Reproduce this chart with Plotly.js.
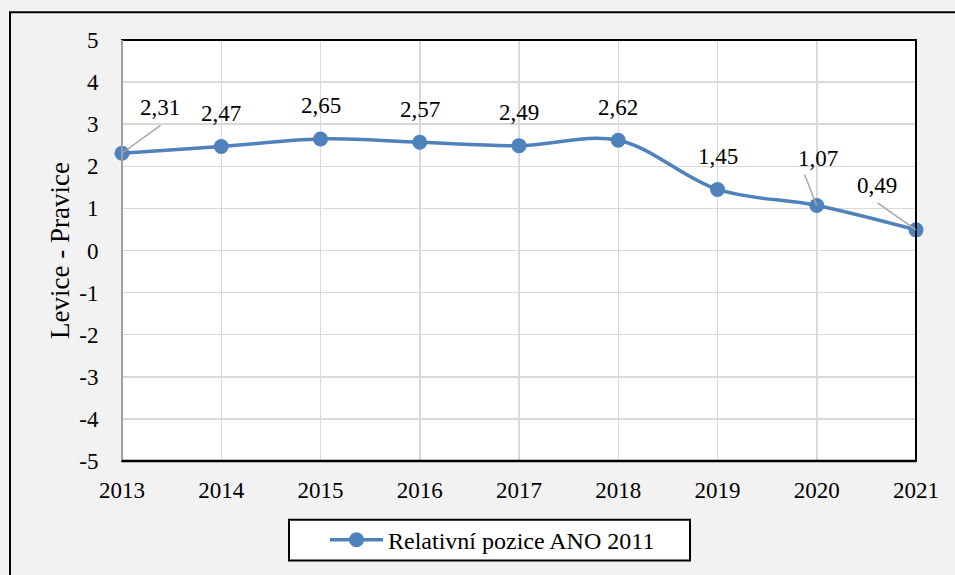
<!DOCTYPE html>
<html>
<head>
<meta charset="utf-8">
<script src="https://cdn.plot.ly/plotly-3.0.1.min.js"></script>
<style>
  html, body { margin: 0; padding: 0; background: #f2f2f2; }
  #chart { width: 955px; height: 575px; }
</style>
</head>
<body>
<div id="chart"></div>
<script>
// ---- data ----
const years = [2013, 2014, 2015, 2016, 2017, 2018, 2019, 2020, 2021];
const values = [2.31, 2.47, 2.65, 2.57, 2.49, 2.62, 1.45, 1.07, 0.49];
const valueLabels = ['2,31', '2,47', '2,65', '2,57', '2,49', '2,62', '1,45', '1,07', '0,49'];
const seriesName = 'Relativní pozice ANO 2011';
const yTickVals = [-5, -4, -3, -2, -1, 0, 1, 2, 3, 4, 5];
const yTickText = ['-5', '-4', '-3', '-2', '-1', '0', '1', '2', '3', '4', '5'];
const xTickText = ['2013', '2014', '2015', '2016', '2017', '2018', '2019', '2020', '2021'];
const yTitle = 'Levice - Pravice';

// ---- styling ----
const FONT = '"Liberation Serif", "Times New Roman", serif';
const BLUE = '#4f81bd';
const GRID = '#d9d9d9';
const LEADER = '#a6a6a6';

// label offsets (px) relative to each point; displaced labels get leader lines
const labelShift = {
  0: {x: 38, y: 46, lead: {ax: 40, ay: -29}},
  7: {x: 1, y: 47, lead: {ax: -13, ay: -33}},
  8: {x: -39, y: 44, lead: {ax: -40, ay: -28}}
};

const annotations = [];
years.forEach((yr, i) => {
  const s = labelShift[i] || {x: 0, y: 33};
  annotations.push({
    x: yr, y: values[i], xref: 'x', yref: 'y',
    text: valueLabels[i], showarrow: false,
    xshift: s.x, yshift: s.y,
    font: {family: FONT, size: 23, color: '#000'}
  });
  if (s.lead) {
    annotations.push({
      x: yr, y: values[i], xref: 'x', yref: 'y',
      text: ' ', font: {size: 1},
      showarrow: true, arrowhead: 0, arrowwidth: 1.5, arrowcolor: LEADER,
      ax: s.lead.ax, ay: s.lead.ay, standoff: 0, startstandoff: 0
    });
  }
});

const trace = {
  x: years, y: values, type: 'scatter', mode: 'lines+markers',
  name: seriesName,
  line: {color: BLUE, width: 3.5, shape: 'spline', smoothing: 1},
  marker: {color: BLUE, size: 15},
  cliponaxis: false
};

const L = 122, T = 40, R = 39, B = 112;
const W = 955, H = 575;
const pw = W - L - R, ph = H - T - B;
const px = v => (v - L) / pw;
const py = v => (H - B - v) / ph;

const shapes = [
  // outer chart frame
  {type: 'rect', xref: 'paper', yref: 'paper', x0: px(10), x1: 1.3, y0: -0.5, y1: py(12),
   line: {color: '#000', width: 2}, fillcolor: 'rgba(0,0,0,0)', layer: 'above'},
  // plot border (black)
  {type: 'rect', xref: 'paper', yref: 'paper', x0: 0, x1: 1, y0: 0, y1: 1,
   line: {color: '#000', width: 2}, fillcolor: 'rgba(0,0,0,0)', layer: 'above'},
  // left axis line (gray)
  {type: 'line', xref: 'paper', yref: 'paper', x0: 0, x1: 0, y0: 0, y1: 1,
   line: {color: '#a0a0a0', width: 2}, layer: 'above'},
  // bottom axis thicker
  {type: 'line', xref: 'paper', yref: 'paper', x0: 0, x1: 1, y0: 0, y1: 0,
   line: {color: '#000', width: 2.5}, layer: 'above'},
  // legend box
  {type: 'rect', xref: 'paper', yref: 'paper', x0: px(289), x1: px(690), y0: py(563), y1: py(522),
   line: {color: '#000', width: 2}, fillcolor: '#ffffff', layer: 'above'}
];

const layout = {
  width: W, height: H,
  margin: {l: L, r: R, t: T, b: B, pad: 0},
  paper_bgcolor: '#f2f2f2',
  plot_bgcolor: '#ffffff',
  font: {family: FONT, color: '#000', size: 23},
  showlegend: true,
  legend: {
    orientation: 'h', x: px(325), xanchor: 'left', y: py(542.5), yanchor: 'middle',
    bgcolor: 'rgba(0,0,0,0)', borderwidth: 0,
    font: {family: FONT, size: 24, color: '#000'},
    itemwidth: 53
  },
  xaxis: {
    range: [2013, 2021], tickvals: years, ticktext: xTickText,
    showgrid: true, gridcolor: GRID, gridwidth: 1.5,
    zeroline: false, showline: false,
    ticks: 'outside', ticklen: 8, tickcolor: 'rgba(0,0,0,0)',
    tickfont: {family: FONT, size: 23, color: '#000'},
    fixedrange: true
  },
  yaxis: {
    range: [-5, 5], tickvals: yTickVals, ticktext: yTickText,
    showgrid: true, gridcolor: GRID, gridwidth: 1.5,
    zeroline: false, showline: false,
    ticks: 'outside', ticklen: 18, tickcolor: 'rgba(0,0,0,0)',
    tickfont: {family: FONT, size: 23, color: '#000'},
    title: {text: yTitle, font: {family: FONT, size: 27, color: '#000'}, standoff: 1},
    automargin: false,
    fixedrange: true
  },
  shapes: shapes,
  annotations: annotations
};

Plotly.newPlot('chart', [trace], layout, {displayModeBar: false, staticPlot: true});
</script>
</body>
</html>
